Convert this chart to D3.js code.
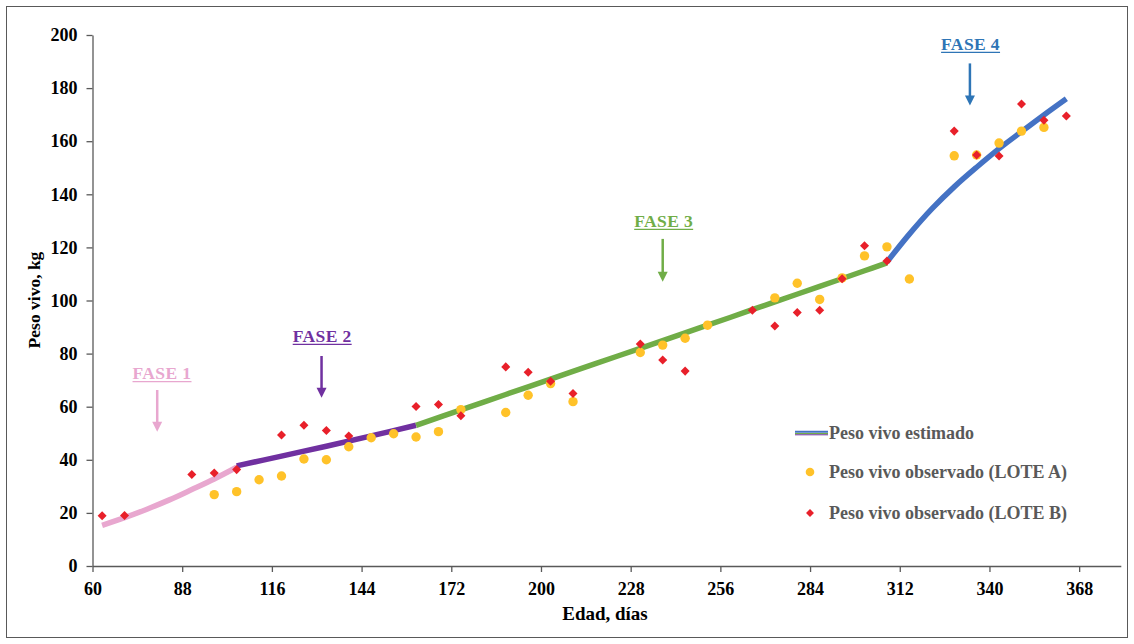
<!DOCTYPE html>
<html><head><meta charset="utf-8">
<script src="https://cdn.jsdelivr.net/npm/d3@7/dist/d3.min.js"></script>
<style>
body{margin:0;background:#fff;}
svg{display:block;}
text{font-family:"Liberation Serif","Times New Roman",serif;font-weight:bold;}
</style></head>
<body>
<svg id="c" width="1134" height="644"></svg>
<script>
// ---- data ----
const xTicks = [60,88,116,144,172,200,228,256,284,312,340,368];
const yTicks = [0,20,40,60,80,100,120,140,160,180,200];

const loteA_dias = [98,105,112,119,126,133,140,147,154,161,168,175,189,196,203,210,231,238,245,252,273,280,287,294,301,308,315,329,336,343,350,357];
const loteA_peso = [26.9,28,32.5,33.9,40.3,40,44.9,48.3,49.8,48.6,50.6,58.9,57.8,64.3,68.7,61.9,80.4,83.2,85.8,90.7,101,106.5,100.4,108.5,116.8,120.2,108.1,154.5,154.8,159.3,163.8,165.2];

const loteB_dias = [63,70,91,98,105,119,126,133,140,161,168,175,189,196,203,210,231,238,245,266,273,280,287,294,301,308,329,336,343,350,357,364];
const loteB_peso = [18.9,19,34.5,35,36.3,49.3,53,51,49,60.1,60.8,56.6,75,73,69.6,65,83.6,77.6,73.4,96.3,90.4,95.5,96.3,108.2,120.6,114.9,163.8,154.8,154.4,174,167.9,169.5];

const fase1_dias = [63,70,77,84,91,98,105];
const fase1_peso = [15.3,18.2,21.4,24.9,28.8,32.8,37.2];
const fase2_dias = [105,119,133,147,161];
const fase2_peso = [37.7,41.4,45.1,49,53];
const fase3_dias = [161,175,189,203,217,231,245,259,273,287,301,308];
const fase3_peso = [53,58.8,64.6,70.4,76.2,82,87.8,93.6,99.5,105.3,111.2,114.2];
const fase4_dias = [308,315,322,329,336,343,350,357,364];
const fase4_peso = [114.5,125,134.5,142.8,150.2,157.2,163.6,169.9,176];

const faseLabels = ["FASE 1","FASE 2","FASE 3","FASE 4"];
const faseColors = ["#E8A7CF","#7030A0","#70AD47","#4472C4"];
const faseTextColors = ["#E8A7CF","#7030A0","#70AD47","#2E75B6"];
const faseTextDia = [81.7,131.7,238.3,334.1];
const faseArrowDia = [80.2,131.5,238,333.9];
const faseTextPeso = [70.4,84.4,127.7,194.4];
const faseArrowIni = [66.3,79.1,123.2,189.3];
const faseArrowFin = [50.6,63.4,107.1,173.4];

const legendLabels = ["Peso vivo estimado","Peso vivo observado (LOTE A)","Peso vivo observado (LOTE B)"];

// ---- drawing ----
const svg = d3.select("#c");
svg.append("rect").attr("x",6.5).attr("y",6.5).attr("width",1121).attr("height",631)
  .attr("fill","none").attr("stroke","#595959").attr("stroke-width",1);

const x = d3.scaleLinear().domain([60,381]).range([92.5,1120.8]);
const y = d3.scaleLinear().domain([0,200]).range([566,35]);

const axisColor = "#595959";
const gx = svg.append("g").attr("transform","translate(0,566)")
  .call(d3.axisBottom(x).tickValues(xTicks).tickSize(6).tickPadding(10).tickSizeOuter(0));
const gy = svg.append("g").attr("transform","translate(92.5,0)")
  .call(d3.axisLeft(y).tickValues(yTicks).tickSize(6).tickPadding(9).tickSizeOuter(0));
[gx,gy].forEach(g=>{
  g.select(".domain").attr("stroke",axisColor).attr("stroke-width",1.3);
  g.selectAll(".tick line").attr("stroke",axisColor).attr("stroke-width",1.3);
  g.selectAll(".tick text").attr("fill","#000").style("font-size","18px")
    .style("font-family","'Liberation Serif','Times New Roman',serif").style("font-weight","bold");
});

svg.append("text").attr("x",605).attr("y",620).attr("text-anchor","middle")
  .style("font-size","19px").attr("fill","#000").text("Edad, días");
svg.append("text").attr("transform","translate(40,300) rotate(-90)").attr("text-anchor","middle")
  .style("font-size","17.5px").attr("fill","#000").text("Peso vivo, kg");

// lines
const line = d3.line().x(d=>x(d[0])).y(d=>y(d[1])).curve(d3.curveCatmullRom.alpha(0.5));
const fases = [[fase1_dias,fase1_peso],[fase2_dias,fase2_peso],[fase3_dias,fase3_peso],[fase4_dias,fase4_peso]];
fases.forEach((f,i)=>{
  svg.append("path").datum(f[0].map((d,j)=>[d,f[1][j]]))
    .attr("d",line).attr("fill","none").attr("stroke",faseColors[i])
    .attr("stroke-width",5.5).attr("stroke-linecap","butt");
});

// points
const yellow = "#FFC229", red = "#E8202A";
svg.append("g").selectAll("circle").data(loteA_dias.map((d,i)=>[d,loteA_peso[i]]))
  .join("circle").attr("cx",d=>x(d[0])).attr("cy",d=>y(d[1])).attr("r",4.7).attr("fill",yellow);
const diamond = d3.symbol().type(d3.symbolDiamond2).size(52);
svg.append("g").selectAll("path").data(loteB_dias.map((d,i)=>[d,loteB_peso[i]]))
  .join("path").attr("d",diamond).attr("transform",d=>`translate(${x(d[0])},${y(d[1])})`).attr("fill",red);

// phase annotations
faseLabels.forEach((lab,i)=>{
  const t = svg.append("text").attr("x",x(faseTextDia[i])).attr("y",y(faseTextPeso[i]))
    .attr("text-anchor","middle").style("font-size","17.5px").attr("fill",faseTextColors[i])
    .style("letter-spacing","0.4px").text(lab);
  const w = t.node().getComputedTextLength();
  const cx = x(faseTextDia[i]);
  svg.append("line").attr("x1",cx-w/2).attr("x2",cx+w/2)
    .attr("y1",y(faseTextPeso[i])+2.5).attr("y2",y(faseTextPeso[i])+2.5)
    .attr("stroke",faseTextColors[i]).attr("stroke-width",1.2);
  const ax = x(faseArrowDia[i]), y1 = y(faseArrowIni[i]), y2 = y(faseArrowFin[i]);
  svg.append("line").attr("x1",ax).attr("x2",ax).attr("y1",y1).attr("y2",y2-9)
    .attr("stroke",faseTextColors[i]).attr("stroke-width",2.5);
  svg.append("path").attr("d",`M${ax-5},${y2-10}L${ax+5},${y2-10}L${ax},${y2}Z`).attr("fill",faseTextColors[i]);
});

// legend
const lg = svg.append("g");
const lx = 795, lRows = [433,472,513];
lg.append("line").attr("x1",lx).attr("x2",lx+33).attr("y1",lRows[0]-1.2).attr("y2",lRows[0]-1.2).attr("stroke","#4472C4").attr("stroke-width",2);
lg.append("line").attr("x1",lx).attr("x2",lx+33).attr("y1",lRows[0]+0.6).attr("y2",lRows[0]+0.6).attr("stroke","#70AD47").attr("stroke-width",1.2);
lg.append("line").attr("x1",lx).attr("x2",lx+33).attr("y1",lRows[0]+1.8).attr("y2",lRows[0]+1.8).attr("stroke","#7030A0").attr("stroke-width",1);
lg.append("circle").attr("cx",810).attr("cy",lRows[1]).attr("r",4.3).attr("fill",yellow);
lg.append("path").attr("d",d3.symbol().type(d3.symbolDiamond2).size(40)).attr("transform",`translate(810,${lRows[2]})`).attr("fill",red);
legendLabels.forEach((l,i)=>{
  lg.append("text").attr("x",829).attr("y",lRows[i]).attr("dy","0.35em")
    .style("font-size","18px").attr("fill","#595959").text(l);
});
</script>
</body></html>
